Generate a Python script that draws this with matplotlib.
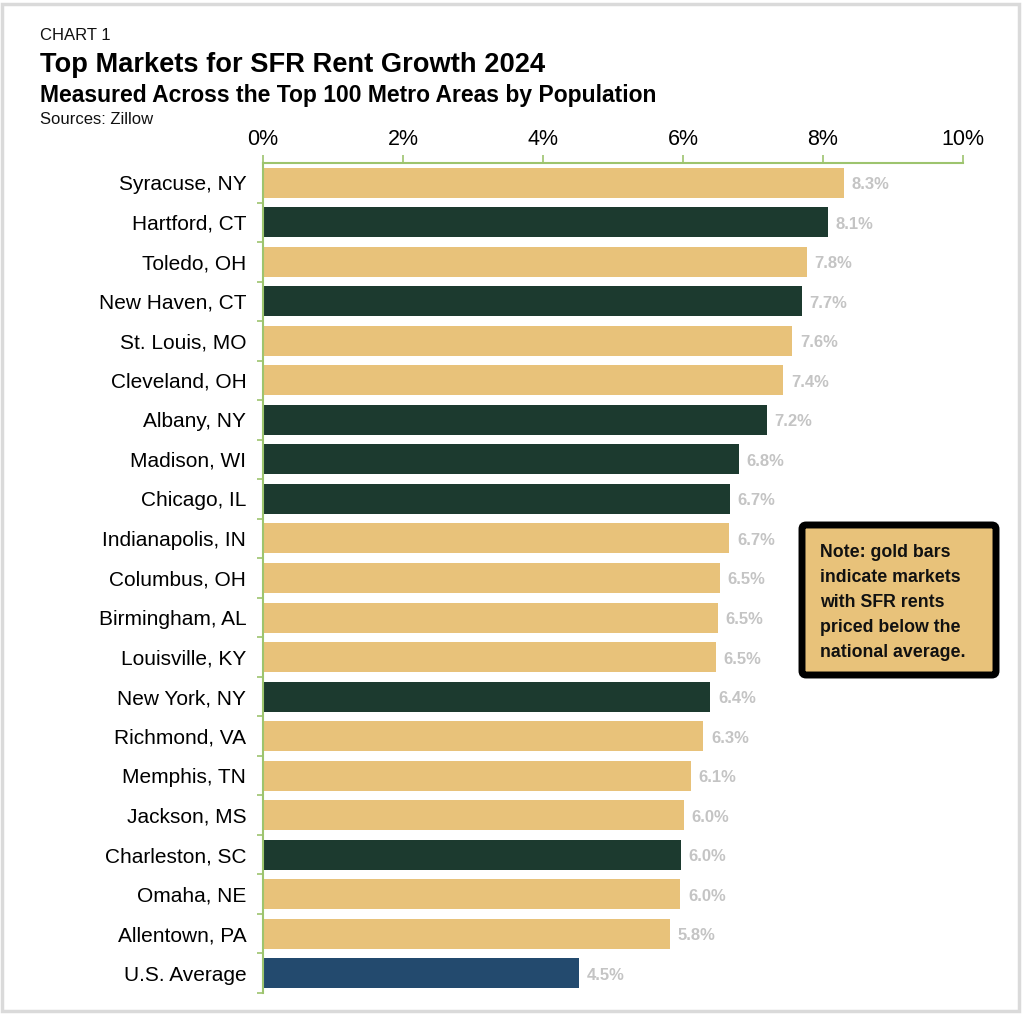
import matplotlib
matplotlib.use("Agg")
import matplotlib.pyplot as plt
from matplotlib.patches import Rectangle, FancyBboxPatch
from matplotlib.ticker import FixedLocator

markets = ["Syracuse, NY", "Hartford, CT", "Toledo, OH", "New Haven, CT", "St. Louis, MO",
           "Cleveland, OH", "Albany, NY", "Madison, WI", "Chicago, IL", "Indianapolis, IN",
           "Columbus, OH", "Birmingham, AL", "Louisville, KY", "New York, NY", "Richmond, VA",
           "Memphis, TN", "Jackson, MS", "Charleston, SC", "Omaha, NE", "Allentown, PA",
           "U.S. Average"]
growth = [8.3, 8.07, 7.77, 7.7, 7.56, 7.43, 7.2, 6.8, 6.67, 6.66,
          6.53, 6.5, 6.47, 6.39, 6.29, 6.11, 6.01, 5.97, 5.96, 5.81, 4.51]
labels = ["8.3%", "8.1%", "7.8%", "7.7%", "7.6%", "7.4%", "7.2%", "6.8%", "6.7%", "6.7%",
          "6.5%", "6.5%", "6.5%", "6.4%", "6.3%", "6.1%", "6.0%", "6.0%", "6.0%", "5.8%", "4.5%"]
group = ["gold", "green", "gold", "green", "gold", "gold", "green", "green", "green", "gold",
         "gold", "gold", "gold", "green", "gold", "gold", "gold", "green", "gold", "gold", "avg"]
xticks = [0, 2, 4, 6, 8, 10]
xtick_labels = ["0%", "2%", "4%", "6%", "8%", "10%"]

colors = {"gold": "#E8C27A", "green": "#1C3A2F", "avg": "#234A6E"}
FONT = "Liberation Sans"
AXIS_GREEN = "#9DC46E"

fig = plt.figure(figsize=(10.24, 10.15), dpi=100)
W, H = 1024, 1015
fig.patches.append(Rectangle((2 / W, 4 / H), 1017 / W, 1007 / H, transform=fig.transFigure,
                             fill=False, edgecolor="#DADADA", linewidth=2.5))

ax = fig.add_axes([263 / W, 1 - 993 / H, 700 / W, 830 / H])
y = list(range(len(markets)))
ax.barh(y, growth, height=0.76, color=[colors[g] for g in group])
ax.set_ylim(len(markets) - 0.5, -0.5)
ax.set_xlim(0, 10)

for yi, v, lab in zip(y, growth, labels):
    ax.text(v + 0.11, yi + 0.05, lab, va="center", ha="left", family=FONT,
            fontweight="bold", fontsize=12, color="#C4C4C4")

ax.xaxis.tick_top()
ax.set_xticks(xticks)
ax.set_xticklabels(xtick_labels, fontsize=15.5, family=FONT)
ax.tick_params(axis="x", direction="out", length=6, color=AXIS_GREEN, width=1.2, pad=3.5)
ax.set_yticks(y)
ax.set_yticklabels(markets, fontsize=15, family=FONT)
ax.tick_params(axis="y", which="major", length=0, pad=12)
ax.yaxis.set_minor_locator(FixedLocator([i + 0.5 for i in range(len(markets))]))
ax.tick_params(axis="y", which="minor", length=4, color=AXIS_GREEN, width=1.2, direction="out")

for s in ["right", "bottom"]:
    ax.spines[s].set_visible(False)
for s in ["top", "left"]:
    ax.spines[s].set_color(AXIS_GREEN)
    ax.spines[s].set_linewidth(1.5)
ax.spines["top"].set_bounds(0, 10)

fig.text(40 / W, 1 - 40 / H, "CHART 1", fontsize=12, family=FONT, color="#111111", va="baseline")
fig.text(40 / W, 1 - 72 / H, "Top Markets for SFR Rent Growth 2024", fontsize=19.6,
         fontweight="bold", family=FONT, color="#000000", va="baseline")
fig.text(40 / W, 1 - 102 / H, "Measured Across the Top 100 Metro Areas by Population", fontsize=16.5,
         fontweight="bold", family=FONT, color="#000000", va="baseline")
fig.text(40 / W, 1 - 124 / H, "Sources: Zillow", fontsize=12, family=FONT, color="#111111",
         va="baseline")

box = FancyBboxPatch((802 / W, 1 - 675 / H), 194 / W, 150 / H, transform=fig.transFigure,
                     boxstyle="round,pad=0,rounding_size=0.004", facecolor="#E8C27A",
                     edgecolor="#000000", linewidth=5)
fig.patches.append(box)
note_lines = ["Note: gold bars", "indicate markets", "with SFR rents",
              "priced below the", "national average."]
for i, line in enumerate(note_lines):
    fig.text(820 / W, 1 - (557 + i * 25) / H, line, family=FONT, fontweight="bold",
             fontsize=12.8, color="#111111", va="baseline", ha="left")

fig.savefig("out.png", dpi=100)
